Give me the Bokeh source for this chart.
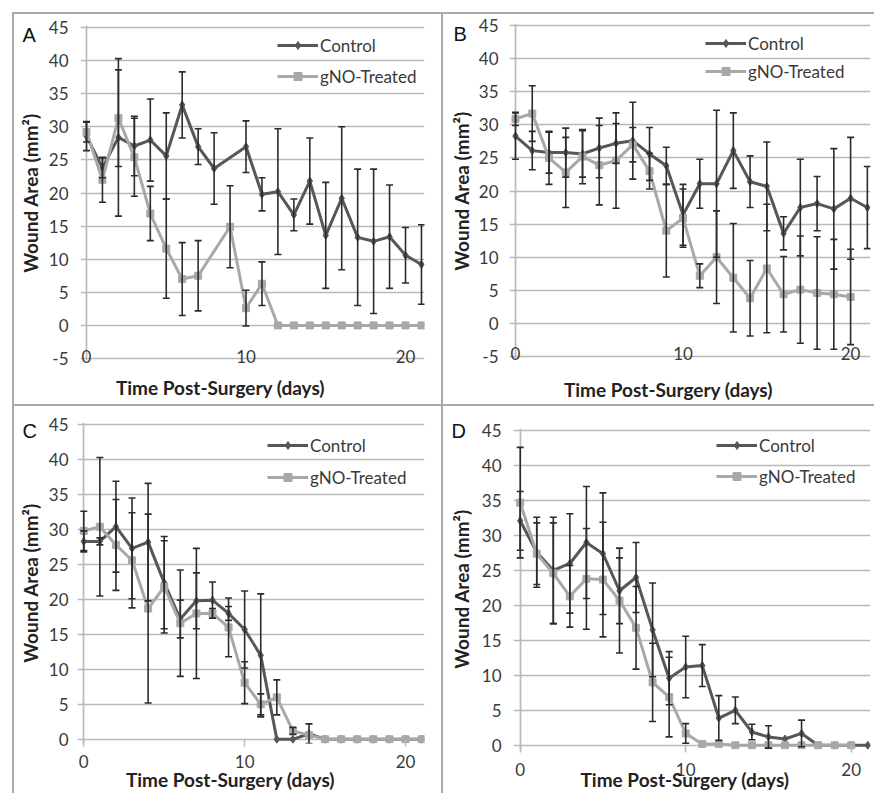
import math
from bokeh.plotting import figure
from bokeh.models import (Range1d, FixedTicker, SingleIntervalTicker, Whisker, LinearAxis,
                          ColumnDataSource, TeeHead, Legend, LegendItem)
from bokeh.layouts import row, column
from bokeh.embed import file_html
from bokeh.resources import INLINE

# ---------------- data ----------------
series_labels = ["Control", "gNO-Treated"]
x_tick_values = [0, 10, 20]
x_title = "Time Post-Surgery (days)"
y_title = "Wound Area (mm\u00b2)"

# Panel A
a_ctrl_days = [0, 1, 2, 3, 4, 5, 6, 7, 8, 10, 11, 12, 13, 14, 15, 16, 17, 18, 19, 20, 21]
a_ctrl_area = [28.6, 23.8, 28.4, 27.1, 28.0, 25.6, 33.3, 27.0, 23.7, 27.0, 19.8, 20.2, 16.7, 21.8, 13.6, 19.2, 13.3, 12.7, 13.4, 10.6, 9.2]
a_ctrl_err = [2.2, 1.5, 11.9, 4.5, 6.2, 6.5, 5.0, 2.7, 5.4, 3.9, 2.5, 9.5, 2.4, 6.5, 8.0, 10.8, 10.3, 10.9, 7.8, 4.2, 6.0]
a_trt_days = [0, 1, 2, 3, 4, 5, 6, 7, 9, 10, 11, 12, 13, 14, 15, 16, 17, 18, 19, 20, 21]
a_trt_area = [29.2, 22.0, 31.3, 25.4, 16.9, 11.6, 7.0, 7.5, 14.9, 2.6, 6.3, 0, 0, 0, 0, 0, 0, 0, 0, 0, 0]
a_trt_err = [1.5, 3.4, 7.3, 5.9, 4.1, 7.5, 5.5, 5.3, 6.2, 2.7, 3.3, 0, 0, 0, 0, 0, 0, 0, 0, 0, 0]

# Panel B
b_ctrl_days = list(range(0, 22))
b_ctrl_area = [28.3, 26.1, 25.8, 25.8, 25.6, 26.5, 27.2, 27.6, 25.6, 23.8, 16.4, 21.1, 21.1, 26.1, 21.4, 20.7, 13.6, 17.5, 18.1, 17.3, 18.9, 17.5]
b_ctrl_err = [3.5, 2.9, 3.1, 3.7, 3.5, 4.5, 3.0, 5.8, 4.0, 2.8, 4.6, 3.7, 11.1, 5.7, 3.9, 6.7, 2.5, 7.3, 4.1, 9.1, 9.2, 6.2]
b_trt_days = list(range(0, 21))
b_trt_area = [30.9, 31.7, 25.0, 22.8, 25.2, 23.9, 24.6, 27.0, 23.0, 14.0, 15.9, 7.2, 10.0, 6.9, 3.8, 8.3, 4.4, 5.1, 4.6, 4.4, 4.0]
b_trt_err = [1.0, 4.2, 4.0, 5.3, 4.1, 6.0, 7.2, 2.6, 2.7, 7.0, 4.4, 1.8, 7.0, 8.2, 5.7, 9.7, 5.7, 8.1, 8.5, 8.3, 7.2]

# Panel C
c_ctrl_days = list(range(0, 22))
c_ctrl_area = [28.3, 28.3, 30.4, 27.3, 28.2, 22.4, 17.2, 19.8, 19.9, 18.0, 15.7, 12.0, 0, 0, 0.8, 0, 0, 0, 0, 0, 0, 0]
c_ctrl_err = [1.5, 0.5, 6.5, 7.2, 8.4, 6.6, 2.7, 4.0, 2.6, 1.0, 5.5, 8.8, 0, 0, 1.4, 0, 0, 0, 0, 0, 0, 0]
c_trt_days = list(range(0, 22))
c_trt_area = [29.8, 30.4, 27.8, 25.6, 18.7, 21.8, 16.6, 18.0, 18.0, 16.0, 8.1, 5.0, 6.0, 1.2, 0.6, 0, 0, 0, 0, 0, 0, 0]
c_trt_err = [2.8, 9.9, 6.5, 6.8, 13.5, 6.6, 7.6, 9.3, 0.7, 4.2, 3.0, 1.5, 2.5, 0.5, 0, 0, 0, 0, 0, 0, 0, 0]

# Panel D
d_ctrl_days = list(range(0, 22))
d_ctrl_area = [32.1, 27.6, 25.0, 26.0, 29.0, 27.4, 22.1, 24.0, 16.5, 9.6, 11.2, 11.4, 3.9, 5.0, 1.9, 1.2, 0.9, 1.7, 0, 0, 0, 0]
d_ctrl_err = [4.2, 5.0, 7.6, 7.1, 8.0, 8.7, 4.7, 5.0, 6.7, 3.8, 4.4, 3.0, 3.2, 1.9, 1.1, 1.6, 0, 1.9, 0, 0, 0, 0]
d_trt_days = list(range(0, 21))
d_trt_area = [34.7, 27.4, 24.6, 21.3, 23.8, 23.7, 20.7, 16.8, 9.0, 6.9, 1.7, 0.2, 0.2, 0, 0, 0, 0, 0, 0, 0, 0]
d_trt_err = [7.9, 4.4, 7.2, 4.4, 7.2, 8.2, 7.5, 5.9, 5.6, 5.7, 1.4, 0, 0, 0, 0, 0, 0, 0, 0, 0, 0]

# ---------------- styling ----------------
FONT = "Lato"
CTRL_COLOR = "#575757"
TRT_COLOR = "#a8a8a8"
ERR_COLOR = "#2b2b2b"
GRID_COLOR = "#b9b9b9"
BORDER_COLOR = "#a9a9a9"
TICK_TEXT = "#3a3a3a"
TITLE_TEXT = "#222222"

TICK_SIZE = "17px"
TITLE_SIZE = "19px"


def err_source(days, area, err):
    base, upper, lower = [], [], []
    for d, a, e in zip(days, area, err):
        if e > 0:
            base.append(d)
            upper.append(a + e)
            lower.append(a - e)
    return ColumnDataSource(dict(base=base, upper=upper, lower=lower))


def bare_axis(ax):
    ax.axis_line_color = None
    ax.major_tick_line_color = None
    ax.minor_tick_line_color = None
    ax.major_tick_in = 0
    ax.major_tick_out = 0


def make_panel(spec, letter, cd, ca, ce, td, ta, te):
    ox, oy = spec["origin"]
    W, H = spec["size"]
    fl, ft, fw, fh = spec["frame"]
    xs, xe = spec["xr"]
    ys, ye = spec["yr"]
    p = figure(width=W, height=H, x_range=Range1d(xs, xe), y_range=Range1d(ys, ye),
               output_backend="svg", toolbar_location=None,
               min_border_left=fl, min_border_right=W - fl - fw,
               min_border_top=ft, min_border_bottom=H - ft - fh)
    if "frame_align" in p.properties():
        p.frame_align = False
    p.outline_line_color = None
    p.background_fill_color = "white"
    p.border_fill_color = "white"

    # absolute page pixel -> data coordinate (used only to place texts)
    fla, fta = ox + fl, oy + ft
    fra = fla + fw
    def dx(px):
        return round(xs + (px - fla) / fw * (xe - xs), 2)
    def dy(py):
        return round(ye - (py - fta) / fh * (ye - ys), 2)

    yt = SingleIntervalTicker(interval=5, num_minor_ticks=0)

    xa = p.xaxis[0]
    xa.ticker = FixedTicker(ticks=x_tick_values, minor_ticks=[])
    bare_axis(xa)
    if spec["xtickmarks"]:
        xa.major_tick_line_color = GRID_COLOR
        xa.major_tick_line_width = 1.5
        xa.major_tick_in = 4
        xa.major_tick_out = 3
    xa.major_label_standoff = spec["xstand"]
    xa.major_label_text_font = FONT
    xa.major_label_text_font_size = TICK_SIZE
    xa.major_label_text_color = TICK_TEXT

    ya = p.yaxis[0]
    ya.ticker = yt
    bare_axis(ya)
    ya.major_label_standoff = spec["ystand"]
    ya.major_label_text_font = FONT
    ya.major_label_text_font_size = TICK_SIZE
    ya.major_label_text_color = TICK_TEXT
    ya.major_label_overrides = {-5: "-5"}
    ya.axis_label = y_title
    ya.axis_label_standoff = spec["ytstand"]
    ya.axis_label_text_font = FONT
    ya.axis_label_text_font_style = "bold"
    ya.axis_label_text_font_size = TITLE_SIZE
    ya.axis_label_text_color = TITLE_TEXT

    # x title: a label-only axis stacked below the tick-label axis
    tx = dx(spec["xtitle"])
    xt_axis = LinearAxis(ticker=FixedTicker(ticks=[tx], minor_ticks=[]),
                         major_label_overrides={tx: x_title})
    bare_axis(xt_axis)
    xt_axis.major_label_standoff = spec["xtstand"]
    xt_axis.major_label_text_font = FONT
    xt_axis.major_label_text_font_style = "bold"
    xt_axis.major_label_text_font_size = TITLE_SIZE
    xt_axis.major_label_text_color = TITLE_TEXT
    p.add_layout(xt_axis, "below")

    # panel letter: a label-only axis on the right side, its label pulled to the top-left corner
    ty = dy(spec["letter"][1])
    lt_axis = LinearAxis(ticker=FixedTicker(ticks=[ty], minor_ticks=[]),
                         major_label_overrides={ty: letter})
    bare_axis(lt_axis)
    lt_axis.major_label_standoff = int(round(spec["letter"][0] - fra))
    lt_axis.major_label_text_font = "Liberation Sans"
    lt_axis.major_label_text_font_size = "20px"
    lt_axis.major_label_text_color = "#111111"
    p.add_layout(lt_axis, "right")

    p.ygrid[0].ticker = yt
    p.ygrid[0].grid_line_color = GRID_COLOR
    p.ygrid[0].grid_line_width = 1.7
    p.xgrid[0].ticker = FixedTicker(ticks=[0])
    p.xgrid[0].grid_line_color = GRID_COLOR
    p.xgrid[0].grid_line_width = 1.7

    lc = p.line(cd, ca, line_color=CTRL_COLOR, line_width=3)
    sc = p.scatter(cd, ca, marker="diamond", size=8, fill_color=CTRL_COLOR, line_color=CTRL_COLOR)
    lt = p.line(td, ta, line_color=TRT_COLOR, line_width=3)
    st = p.scatter(td, ta, marker="square", size=7, fill_color=TRT_COLOR, line_color=TRT_COLOR)

    for src in (err_source(cd, ca, ce), err_source(td, ta, te)):
        w = Whisker(base="base", upper="upper", lower="lower", source=src, dimension="height",
                    line_color=ERR_COLOR, line_width=1.6, level="annotation",
                    upper_head=TeeHead(size=7, line_color=ERR_COLOR, line_width=1.6),
                    lower_head=TeeHead(size=7, line_color=ERR_COLOR, line_width=1.6))
        p.add_layout(w)

    lx, ly, lsp = spec["legend"]
    legend = Legend(items=[LegendItem(label=series_labels[0], renderers=[lc, sc]),
                           LegendItem(label=series_labels[1], renderers=[lt, st])],
                    location=(lx, ly), orientation="vertical",
                    glyph_width=41, glyph_height=20, label_height=24, label_standoff=2,
                    spacing=lsp, padding=0, margin=0,
                    background_fill_alpha=0, border_line_alpha=0,
                    label_text_font=FONT, label_text_font_size="17px",
                    label_text_color=TICK_TEXT)
    p.add_layout(legend)

    p.styles = {"border-left": f"2px solid {BORDER_COLOR}", "border-top": f"2px solid {BORDER_COLOR}"}
    return p


specs = {
    "A": dict(origin=(14, 14), size=(429, 392), frame=(66, 11, 344, 335),
              xr=(-0.376, 21.19), yr=(-5.3, 45.3), xtickmarks=False, xstand=-11, ystand=12, ytstand=4,
              xtstand=10, legend=(197, 272, 7), letter=(22, 34.5), xtitle=220),
    "B": dict(origin=(445, 14), size=(433, 392), frame=(66, 9, 361, 335),
              xr=(-0.358, 21.188), yr=(-5.3, 45.3), xtickmarks=False, xstand=-12, ystand=11, ytstand=3,
              xtstand=15, legend=(196, 275, 4), letter=(455, 33.5), xtitle=670),
    "C": dict(origin=(14, 408), size=(429, 389), frame=(63, 16, 347, 321),
              xr=(-0.39, 21.18), yr=(-0.6, 45.3), xtickmarks=True, xstand=8, ystand=9, ytstand=4,
              xtstand=-3, legend=(190, 254, 8), letter=(22, 432.5), xtitle=230),
    "D": dict(origin=(445, 408), size=(433, 389), frame=(70, 22, 357, 321),
              xr=(-0.405, 21.166), yr=(-0.6, 45.3), xtickmarks=True, xstand=10, ystand=12, ytstand=6,
              xtstand=-11, legend=(203, 261, 7), letter=(453, 432.5), xtitle=686.5),
}

pA = make_panel(specs["A"], "A", a_ctrl_days, a_ctrl_area, a_ctrl_err, a_trt_days, a_trt_area, a_trt_err)
pB = make_panel(specs["B"], "B", b_ctrl_days, b_ctrl_area, b_ctrl_err, b_trt_days, b_trt_area, b_trt_err)
pC = make_panel(specs["C"], "C", c_ctrl_days, c_ctrl_area, c_ctrl_err, c_trt_days, c_trt_area, c_trt_err)
pD = make_panel(specs["D"], "D", d_ctrl_days, d_ctrl_area, d_ctrl_err, d_trt_days, d_trt_area, d_trt_err)

layout = column(row(pA, pB), row(pC, pD), margin=(12, 0, 0, 12))

open("out.html", "w").write(file_html(layout, INLINE))
